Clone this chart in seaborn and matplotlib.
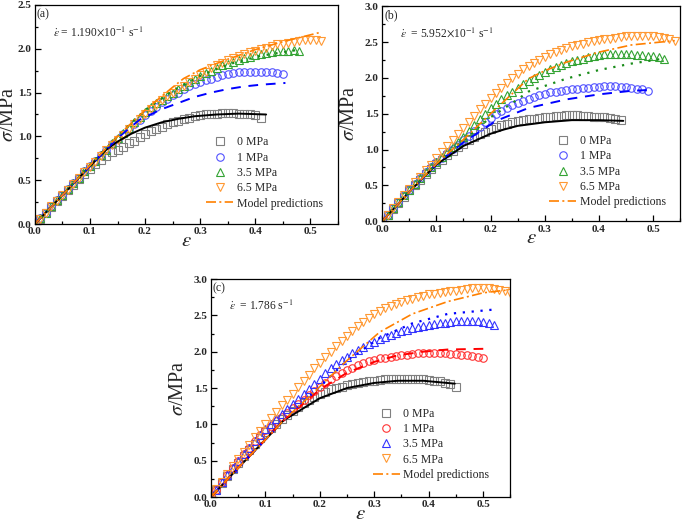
import numpy as np
import pandas as pd
import matplotlib
matplotlib.use('Agg')
import matplotlib.pyplot as plt
from matplotlib.lines import Line2D
from matplotlib.ticker import MultipleLocator
import seaborn as sns

sns.set_theme(style='ticks')
plt.rcParams['font.family'] = ['Liberation Serif', 'DejaVu Serif']
plt.rcParams['mathtext.fontset'] = 'stix'

# strain grid of the measured points (one marker every 0.01)
strain_grid = [0.00, 0.01, 0.02, 0.03, 0.04, 0.05, 0.06, 0.07, 0.08, 0.09,
               0.10, 0.11, 0.12, 0.13, 0.14, 0.15, 0.16, 0.17, 0.18, 0.19,
               0.20, 0.21, 0.22, 0.23, 0.24, 0.25, 0.26, 0.27, 0.28, 0.29,
               0.30, 0.31, 0.32, 0.33, 0.34, 0.35, 0.36, 0.37, 0.38, 0.39,
               0.40, 0.41, 0.42, 0.43, 0.44, 0.45, 0.46, 0.47, 0.48, 0.49,
               0.50, 0.51, 0.52, 0.53, 0.54, 0.55]

pressures = ['0 MPa', '1 MPa', '3.5 MPa', '6.5 MPa']

# ---- (a) 1.190e-1 /s : measured stress
a_0 = [0.00, 0.06, 0.13, 0.19, 0.26, 0.32, 0.39, 0.45, 0.51, 0.57, 0.63, 0.68, 0.73, 0.78,
       0.82, 0.85, 0.88, 0.92, 0.95, 0.99, 1.03, 1.06, 1.09, 1.11, 1.14, 1.16, 1.18, 1.20,
       1.21, 1.23, 1.24, 1.25, 1.25, 1.26, 1.27, 1.27, 1.27, 1.26, 1.26, 1.25, 1.24, 1.21]
a_1 = [0.00, 0.07, 0.13, 0.20, 0.27, 0.33, 0.40, 0.47, 0.53, 0.60, 0.66, 0.72, 0.79, 0.85,
       0.91, 0.97, 1.03, 1.09, 1.14, 1.19, 1.24, 1.29, 1.34, 1.39, 1.43, 1.47, 1.50, 1.54,
       1.57, 1.60, 1.62, 1.64, 1.66, 1.68, 1.70, 1.71, 1.72, 1.73, 1.73, 1.74, 1.74, 1.74,
       1.73, 1.73, 1.72, 1.71]
a_35 = [0.00, 0.07, 0.13, 0.20, 0.27, 0.33, 0.40, 0.47, 0.53, 0.60, 0.66, 0.72, 0.79, 0.85,
        0.92, 0.98, 1.04, 1.10, 1.16, 1.22, 1.28, 1.33, 1.38, 1.42, 1.46, 1.50, 1.54, 1.58,
        1.62, 1.65, 1.69, 1.72, 1.75, 1.78, 1.81, 1.83, 1.85, 1.87, 1.89, 1.91, 1.93, 1.94,
        1.95, 1.96, 1.97, 1.98, 1.98, 1.99, 1.98]
a_65 = [0.00, 0.06, 0.13, 0.20, 0.26, 0.33, 0.39, 0.46, 0.52, 0.59, 0.65, 0.71, 0.78, 0.84,
        0.90, 0.96, 1.02, 1.08, 1.14, 1.20, 1.26, 1.31, 1.36, 1.41, 1.46, 1.50, 1.54, 1.58,
        1.62, 1.66, 1.70, 1.74, 1.78, 1.81, 1.84, 1.87, 1.90, 1.92, 1.94, 1.96, 1.98, 2.00,
        2.01, 2.03, 2.05, 2.06, 2.07, 2.08, 2.09, 2.10, 2.10, 2.10, 2.09]
# (a) model predictions
a_m0_x = [0, 0.05, 0.10, 0.13, 0.15, 0.175, 0.20, 0.23, 0.26, 0.29, 0.33, 0.37, 0.42]
a_m0_y = [0, 0.33, 0.66, 0.85, 0.94, 1.03, 1.10, 1.16, 1.20, 1.23, 1.25, 1.26, 1.25]
a_m1_x = [0, 0.05, 0.10, 0.15, 0.19, 0.23, 0.26, 0.29, 0.32, 0.35, 0.38, 0.41, 0.455]
a_m1_y = [0, 0.33, 0.66, 0.98, 1.19, 1.31, 1.38, 1.45, 1.50, 1.54, 1.57, 1.59, 1.61]
a_m35_x = [0, 0.05, 0.10, 0.15, 0.20, 0.25, 0.30, 0.35, 0.41, 0.48]
a_m35_y = [0, 0.33, 0.67, 1.00, 1.30, 1.52, 1.69, 1.82, 1.92, 1.99]
a_m65_x = [0, 0.05, 0.10, 0.15, 0.20, 0.25, 0.27, 0.30, 0.35, 0.40, 0.45, 0.52]
a_m65_y = [0, 0.33, 0.67, 1.00, 1.30, 1.56, 1.66, 1.76, 1.88, 1.99, 2.08, 2.19]

# ---- (b) 5.952e-1 /s
b_0 = [0.00, 0.09, 0.17, 0.26, 0.34, 0.43, 0.51, 0.58, 0.66, 0.73, 0.80, 0.86, 0.92, 0.98,
       1.03, 1.08, 1.13, 1.17, 1.21, 1.25, 1.28, 1.31, 1.34, 1.36, 1.38, 1.40, 1.41, 1.42,
       1.43, 1.44, 1.45, 1.46, 1.47, 1.47, 1.48, 1.48, 1.48, 1.47, 1.47, 1.46, 1.46, 1.45,
       1.44, 1.43, 1.41]
b_1 = [0.00, 0.09, 0.18, 0.27, 0.36, 0.44, 0.52, 0.60, 0.68, 0.75, 0.82, 0.88, 0.95, 1.01,
       1.07, 1.13, 1.19, 1.26, 1.32, 1.38, 1.44, 1.49, 1.54, 1.58, 1.62, 1.65, 1.68, 1.71,
       1.74, 1.76, 1.78, 1.80, 1.81, 1.82, 1.83, 1.84, 1.85, 1.86, 1.86, 1.87, 1.87, 1.88,
       1.88, 1.88, 1.87, 1.87, 1.86, 1.85, 1.84, 1.82]
b_35 = [0.00, 0.09, 0.18, 0.27, 0.36, 0.44, 0.52, 0.60, 0.68, 0.75, 0.82, 0.89, 0.96, 1.03,
        1.10, 1.18, 1.26, 1.34, 1.42, 1.50, 1.58, 1.64, 1.70, 1.76, 1.81, 1.86, 1.91, 1.96,
        2.00, 2.04, 2.08, 2.12, 2.15, 2.18, 2.21, 2.23, 2.25, 2.27, 2.29, 2.31, 2.32, 2.33,
        2.33, 2.33, 2.33, 2.33, 2.33, 2.32, 2.32, 2.31, 2.30, 2.29, 2.27]
b_65 = [0.00, 0.09, 0.18, 0.27, 0.36, 0.45, 0.54, 0.62, 0.71, 0.79, 0.88, 0.96, 1.05, 1.13,
        1.21, 1.30, 1.39, 1.47, 1.56, 1.64, 1.72, 1.79, 1.86, 1.93, 2.00, 2.06, 2.12, 2.17,
        2.21, 2.25, 2.29, 2.33, 2.36, 2.39, 2.42, 2.44, 2.46, 2.48, 2.50, 2.52, 2.53, 2.54,
        2.55, 2.56, 2.57, 2.58, 2.58, 2.59, 2.59, 2.59, 2.58, 2.57, 2.56, 2.54, 2.51]
b_m0_x = [0, 0.05, 0.10, 0.15, 0.20, 0.225, 0.25, 0.30, 0.35, 0.40, 0.445]
b_m0_y = [0, 0.41, 0.79, 1.05, 1.22, 1.28, 1.33, 1.38, 1.41, 1.41, 1.40]
b_m1_x = [0, 0.05, 0.10, 0.15, 0.21, 0.27, 0.34, 0.40, 0.46, 0.49]
b_m1_y = [0, 0.41, 0.80, 1.10, 1.40, 1.58, 1.70, 1.77, 1.82, 1.83]
b_m35_x = [0, 0.05, 0.10, 0.15, 0.20, 0.25, 0.27, 0.34, 0.40, 0.46, 0.52]
b_m35_y = [0, 0.41, 0.80, 1.13, 1.45, 1.70, 1.81, 1.99, 2.11, 2.20, 2.27]
b_m65_x = [0, 0.05, 0.10, 0.15, 0.20, 0.25, 0.27, 0.30, 0.34, 0.40, 0.46, 0.54]
b_m65_y = [0, 0.41, 0.80, 1.14, 1.50, 1.85, 1.99, 2.10, 2.22, 2.36, 2.46, 2.52]

# ---- (c) 1.786 /s
c_0 = [0.00, 0.09, 0.19, 0.29, 0.38, 0.47, 0.56, 0.65, 0.73, 0.81, 0.89, 0.95, 1.01, 1.07,
       1.13, 1.18, 1.24, 1.29, 1.34, 1.38, 1.42, 1.45, 1.48, 1.50, 1.52, 1.54, 1.56, 1.57,
       1.58, 1.59, 1.60, 1.61, 1.62, 1.62, 1.63, 1.63, 1.63, 1.63, 1.62, 1.62, 1.61, 1.60,
       1.59, 1.57, 1.55, 1.52]
c_1 = [0.00, 0.10, 0.20, 0.30, 0.40, 0.50, 0.59, 0.68, 0.77, 0.85, 0.92, 0.98, 1.04, 1.10,
       1.16, 1.22, 1.28, 1.34, 1.40, 1.46, 1.52, 1.57, 1.62, 1.66, 1.71, 1.75, 1.78, 1.81,
       1.84, 1.87, 1.89, 1.91, 1.92, 1.93, 1.94, 1.95, 1.96, 1.97, 1.98, 1.98, 1.98, 1.98,
       1.98, 1.98, 1.97, 1.97, 1.96, 1.95, 1.94, 1.93, 1.91]
c_35 = [0.00, 0.10, 0.20, 0.30, 0.40, 0.50, 0.59, 0.68, 0.77, 0.85, 0.93, 1.00, 1.07, 1.14,
        1.21, 1.28, 1.35, 1.42, 1.49, 1.56, 1.63, 1.70, 1.77, 1.83, 1.88, 1.93, 1.98, 2.02,
        2.06, 2.10, 2.14, 2.17, 2.20, 2.23, 2.26, 2.28, 2.30, 2.32, 2.34, 2.35, 2.37, 2.38,
        2.39, 2.40, 2.41, 2.42, 2.42, 2.42, 2.42, 2.42, 2.41, 2.39, 2.37]
c_65 = [0.00, 0.11, 0.21, 0.32, 0.42, 0.52, 0.62, 0.72, 0.82, 0.91, 1.00, 1.09, 1.17, 1.26,
        1.34, 1.42, 1.51, 1.59, 1.68, 1.77, 1.85, 1.93, 2.00, 2.08, 2.15, 2.22, 2.29, 2.35,
        2.41, 2.47, 2.52, 2.56, 2.60, 2.63, 2.66, 2.69, 2.71, 2.73, 2.75, 2.77, 2.79, 2.80,
        2.81, 2.82, 2.83, 2.84, 2.85, 2.86, 2.87, 2.87, 2.88, 2.87, 2.86, 2.85, 2.83, 2.81]
c_m0_x = [0, 0.05, 0.10, 0.134, 0.15, 0.20, 0.25, 0.30, 0.343, 0.39, 0.448]
c_m0_y = [0, 0.40, 0.79, 1.06, 1.13, 1.36, 1.50, 1.57, 1.60, 1.60, 1.56]
c_m1_x = [0, 0.05, 0.10, 0.134, 0.15, 0.20, 0.25, 0.30, 0.343, 0.39, 0.435, 0.503]
c_m1_y = [0, 0.40, 0.79, 1.06, 1.16, 1.48, 1.71, 1.86, 1.95, 2.00, 2.03, 2.04]
c_m35_x = [0, 0.05, 0.10, 0.134, 0.15, 0.20, 0.25, 0.31, 0.37, 0.435, 0.52]
c_m35_y = [0, 0.40, 0.79, 1.06, 1.17, 1.52, 1.88, 2.19, 2.39, 2.52, 2.58]
c_m65_x = [0, 0.05, 0.10, 0.134, 0.15, 0.20, 0.25, 0.31, 0.37, 0.435, 0.50, 0.546]
c_m65_y = [0, 0.40, 0.79, 1.06, 1.17, 1.52, 1.88, 2.27, 2.52, 2.69, 2.81, 2.85]

markers = ['s', 'o', '^', 'v']
ORANGE = '#ff9933'
MODEL_ORANGE = '#ff8000'
DASHDOT = (0, (6, 2, 1.2, 2))


def draw_panel(ax, exp, models, mk_colors, line_styles, tag, rate, ymax):
    # measured points (open markers)
    for vals, mk, col in zip(exp, markers, mk_colors):
        df = pd.DataFrame({'eps': strain_grid[:len(vals)], 'sig': vals})
        sns.lineplot(data=df, x='eps', y='sig', ax=ax, marker=mk, linestyle='',
                     markersize=5.4, markerfacecolor='none', markeredgecolor=col,
                     markeredgewidth=0.8, color=col, sort=False, estimator=None)
    # model predictions
    for (mx, my), (col, ls, lw) in zip(models, line_styles):
        sns.lineplot(x=mx, y=my, ax=ax, color=col, linestyle=ls, linewidth=lw,
                     sort=False, estimator=None)

    ax.set_xlim(0, 0.55)
    ax.set_ylim(0, ymax)
    ax.xaxis.set_major_locator(MultipleLocator(0.1))
    ax.xaxis.set_minor_locator(MultipleLocator(0.05))
    ax.yaxis.set_major_locator(MultipleLocator(0.5))
    ax.yaxis.set_minor_locator(MultipleLocator(0.25))
    ax.xaxis.set_major_formatter(lambda v, p: f'{v:.1f}')
    ax.yaxis.set_major_formatter(lambda v, p: f'{v:.1f}')
    ax.tick_params(which='both', direction='in', top=False, right=False,
                   labelsize=8, pad=2.5, color='black', width=0.9)
    ax.tick_params(which='major', length=4)
    ax.tick_params(which='minor', length=2)
    for lab in ax.get_xticklabels() + ax.get_yticklabels():
        lab.set_fontweight('bold')
    for sp in ax.spines.values():
        sp.set_visible(True)
        sp.set_color('black')
        sp.set_linewidth(0.9)

    ax.set_xlabel(r'$\varepsilon$', fontsize=15, labelpad=0)
    ax.set_ylabel(r'$\sigma$/MPa', fontsize=14.5, labelpad=0)

    ax.text(0.006, 0.985, tag, transform=ax.transAxes, ha='left', va='top', fontsize=8.5)
    ax.text(0.06, 0.86, rate, transform=ax.transAxes, ha='left', va='baseline', fontsize=8.3)

    handles = [Line2D([], [], marker=mk, linestyle='', markersize=5.4,
                      markerfacecolor='none', markeredgecolor=col, markeredgewidth=0.8)
               for mk, col in zip(markers, mk_colors)]
    handles.append(Line2D([], [], color=MODEL_ORANGE, linestyle=DASHDOT, linewidth=1.2))
    return handles


fig = plt.figure(figsize=(6.85, 5.24), dpi=100)
ax_a = fig.add_axes([0.051, 0.5725, 0.442, 0.418])
ax_b = fig.add_axes([0.558, 0.578, 0.435, 0.410])
ax_c = fig.add_axes([0.308, 0.0515, 0.437, 0.416])

ab_colors = ['#808080', '#5050ff', '#33a333', ORANGE]
c_colors = ['#808080', '#ff3333', '#3333ff', ORANGE]
ab_lines = [('black', '-', 1.4), ('#0000ff', (0, (5, 4)), 1.4),
            ('#1a8c1a', (0, (1, 3)), 1.6), (MODEL_ORANGE, DASHDOT, 1.2)]
c_lines = [('black', '-', 1.4), ('#ff0000', (0, (5, 4)), 1.4),
           ('#0000ff', (0, (1, 3)), 1.6), (MODEL_ORANGE, DASHDOT, 1.2)]

panels = [
    (ax_a, [a_0, a_1, a_35, a_65],
     [(a_m0_x, a_m0_y), (a_m1_x, a_m1_y), (a_m35_x, a_m35_y), (a_m65_x, a_m65_y)],
     ab_colors, ab_lines, '(a)', r'$\dot{\varepsilon}$ = 1.190$\times$10$^{-1}$ s$^{-1}$', 2.5,
     (0.565, 0.40), (-0.055, 0.5)),
    (ax_b, [b_0, b_1, b_35, b_65],
     [(b_m0_x, b_m0_y), (b_m1_x, b_m1_y), (b_m35_x, b_m35_y), (b_m65_x, b_m65_y)],
     ab_colors, ab_lines, '(b)', r'$\dot{\varepsilon}$  = 5.952$\times$10$^{-1}$ s$^{-1}$', 3.0,
     (0.56, 0.40), (-0.078, 0.5)),
    (ax_c, [c_0, c_1, c_35, c_65],
     [(c_m0_x, c_m0_y), (c_m1_x, c_m1_y), (c_m35_x, c_m35_y), (c_m65_x, c_m65_y)],
     c_colors, c_lines, '(c)', r'$\dot{\varepsilon}$  = 1.786 s$^{-1}$', 3.0,
     (0.54, 0.41), (-0.078, 0.5)),
]

for ax, exp, models, cols, lines, tag, rate, ymax, leg_pos, ylab_pos in panels:
    handles = draw_panel(ax, exp, models, cols, lines, tag, rate, ymax)
    ax.legend(handles, pressures + ['Model predictions'], loc='upper left',
              bbox_to_anchor=leg_pos, frameon=False, fontsize=8.5, handlelength=2.3,
              handletextpad=0.3, labelspacing=0.28, borderpad=0, borderaxespad=0)
    ax.yaxis.set_label_coords(*ylab_pos)
    ax.xaxis.set_label_coords(0.5, -0.035)

fig.savefig('out.png', dpi=100)
